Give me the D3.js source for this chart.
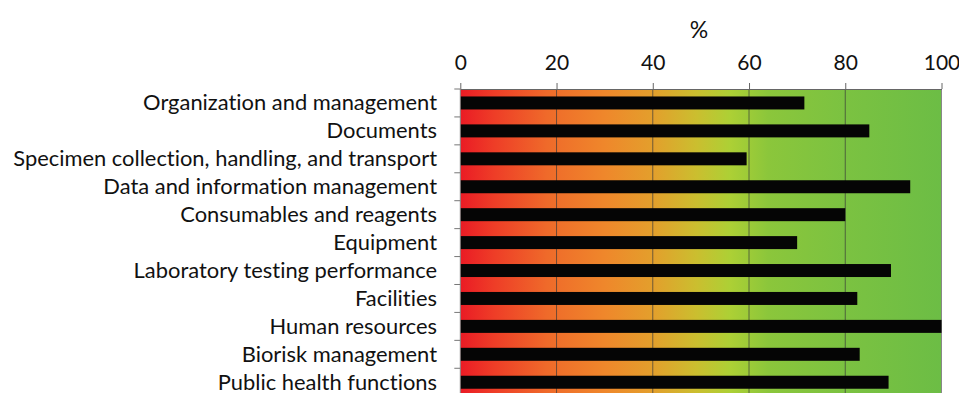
<!DOCTYPE html>
<html>
<head>
<meta charset="utf-8">
<script src="https://cdn.jsdelivr.net/npm/d3@7"></script>
<style>
  body { margin: 0; background: #fff; }
  text { font-family: Lato, "Open Sans", sans-serif; fill: #111; font-variant-ligatures: none; }
</style>
</head>
<body>
<svg id="chart" width="959" height="393"></svg>
<script>
// Assessment areas and their scores (%)
const categories = [
  "Organization and management",
  "Documents",
  "Specimen collection, handling, and transport",
  "Data and information management",
  "Consumables and reagents",
  "Equipment",
  "Laboratory testing performance",
  "Facilities",
  "Human resources",
  "Biorisk management",
  "Public health functions"
];
const scores = [71.5, 85, 59.5, 93.5, 80, 70, 89.5, 82.5, 100, 83, 89];
const tickValues = [0, 20, 40, 60, 80, 100];
const axisTitle = "%";

const svg = d3.select("#chart");
const plotTop = 89, plotBottom = 396.2;

const x = d3.scaleLinear().domain([0, 100]).range([460.3, 941.5]);
const y = d3.scaleBand()
  .domain(categories)
  .range([plotTop, plotBottom])
  .paddingInner(0.535)
  .paddingOuter(0.535 / 2);

// red → orange → yellow → green background
const defs = svg.append("defs");
const grad = defs.append("linearGradient").attr("id", "scoreGrad")
  .attr("x1", 0).attr("x2", 1).attr("y1", 0).attr("y2", 0);
[
  [0.00, "#ea1b25"],
  [0.07, "#ee3d27"],
  [0.18, "#ef6a2a"],
  [0.30, "#ef872b"],
  [0.40, "#e39f2c"],
  [0.49, "#cbbe2f"],
  [0.56, "#add035"],
  [0.64, "#8bc63b"],
  [0.80, "#7bc241"],
  [1.00, "#6cbd45"]
].forEach(([o, c]) => grad.append("stop").attr("offset", o).attr("stop-color", c));

svg.append("rect")
  .attr("x", x(0)).attr("y", plotTop)
  .attr("width", x(100) - x(0)).attr("height", plotBottom - plotTop)
  .attr("fill", "url(#scoreGrad)");

// vertical gridlines
svg.append("g").selectAll("line")
  .data(tickValues.filter(d => d > 0 && d < 100))
  .join("line")
  .attr("x1", d => x(d)).attr("x2", d => x(d))
  .attr("y1", plotTop).attr("y2", plotBottom)
  .attr("stroke", "#3a3a3a").attr("stroke-opacity", 0.7).attr("stroke-width", 1);

// right frame edge
svg.append("line")
  .attr("x1", x(100)).attr("x2", x(100))
  .attr("y1", plotTop).attr("y2", plotBottom)
  .attr("stroke", "#888").attr("stroke-width", 1);

// bars
svg.append("g").selectAll("rect")
  .data(categories)
  .join("rect")
  .attr("x", x(0))
  .attr("y", d => y(d))
  .attr("width", (d, i) => x(scores[i]) - x(0))
  .attr("height", y.bandwidth())
  .attr("fill", "#050505");

// top axis
const xAxis = svg.append("g")
  .attr("transform", `translate(0,${plotTop})`)
  .call(d3.axisTop(x).tickValues(tickValues).tickSize(6).tickSizeOuter(0).tickPadding(13));
xAxis.select(".domain").attr("stroke", "#666");
xAxis.selectAll(".tick line").attr("stroke", "#666");
xAxis.selectAll(".tick text")
  .style("font-size", "21px").style("font-family", "Lato, sans-serif").attr("fill", "#111");

svg.append("text")
  .attr("x", (x(0) + x(100)) / 2 - 2).attr("y", 38)
  .attr("text-anchor", "middle")
  .style("font-size", "23px")
  .text(axisTitle);

// left axis: line with ticks at band boundaries
const leftX = x(0);
svg.append("line")
  .attr("x1", leftX).attr("x2", leftX)
  .attr("y1", plotTop).attr("y2", plotBottom)
  .attr("stroke", "#888");
const bounds = d3.range(categories.length + 1).map(i => plotTop + i * y.step());
svg.append("g").selectAll("line")
  .data(bounds)
  .join("line")
  .attr("x1", leftX - 6).attr("x2", leftX)
  .attr("y1", d => d).attr("y2", d => d)
  .attr("stroke", "#777");

// category labels
const labels = svg.append("g").selectAll("text")
  .data(categories)
  .join("text")
  .attr("x", 437)
  .attr("y", d => y(d) + y.bandwidth() / 2)
  .attr("dy", "0.34em")
  .attr("text-anchor", "end")
  .style("font-size", "20px")
  .text(d => d);

// size labels so the longest one spans the left margin
const longest = d3.max(labels.nodes(), n => n.getComputedTextLength());
const fs = 20 * 424 / longest;
labels.style("font-size", fs + "px");
</script>
</body>
</html>
